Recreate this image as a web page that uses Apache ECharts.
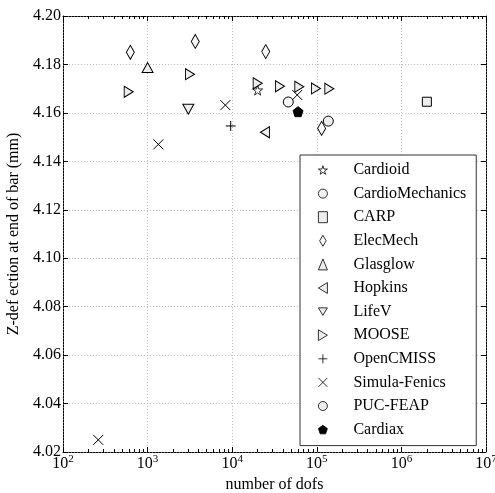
<!DOCTYPE html>
<html>
<head>
<meta charset="utf-8">
<script src="https://cdn.jsdelivr.net/npm/echarts@6/dist/echarts.min.js"></script>
<style>
  html, body { margin: 0; padding: 0; background: #fff; }
  #main { width: 495px; height: 493px; }
</style>
</head>
<body>
<div id="main"></div>
<script>
// values: [dofs, z-deflection]
var cardioid = [[20000, 4.1694]];
var cardioMechanics = [[46000, 4.1645]];
var carp = [[2000000, 4.1646]];
var elecMech = [[625, 4.1850], [3660, 4.1895], [24900, 4.1853], [114000, 4.1536]];
var glasglow = [[1000, 4.1787]];
var hopkins = [[24400, 4.1520]];
var lifeV = [[3030, 4.1615]];
var moose = [[598, 4.1687], [3170, 4.1760], [20000, 4.1722], [36700, 4.1710], [62100, 4.1708], [97700, 4.1701], [140600, 4.1700]];
var openCmiss = [[9600, 4.1546]];
var simulaFenics = [[261, 4.0250], [1340, 4.1470], [8300, 4.1632], [58700, 4.1674]];
var pucFeap = [[136800, 4.1566]];
var cardiax = [[60000, 4.1605]];

var FONT = '"Liberation Serif", "DejaVu Serif", serif';
var LIGHT = '#eeeeee';

// marker shapes
var STAR = 'path://M50,0L61,35L98,35L68,57L79,91L50,70L21,91L32,57L2,35L39,35Z';
var TRI_RIGHT = 'path://M0,0L10,6L0,12Z';
var TRI_LEFT = 'path://M10,0L0,6L10,12Z';
var TRI_DOWN = 'path://M0,0L12,0L6,10Z';
var PLUS = 'path://M5,0L5,10M0,5L10,5';
var CROSS = 'path://M0,0L10,10M10,0L0,10';
var PENTA = 'path://M50,0L98,35L79,91L21,91L2,35Z';
var DIAMOND = 'path://M6,0L12,10L6,20L0,10Z';

function mk(name, data, symbol, size, fill, bw) {
    return {
        name: name,
        type: 'scatter',
        data: data,
        symbol: symbol,
        symbolSize: size,
        symbolKeepAspect: false,
        itemStyle: {
            color: fill,
            borderColor: '#000',
            borderWidth: bw || 1,
            opacity: 1
        },
        emphasis: { disabled: true },
        z: 5
    };
}

var series = [
    mk('Cardioid', cardioid, STAR, 10, '#ffffff', 0.8),
    mk('CardioMechanics', cardioMechanics, 'circle', 10, '#f4f4f4'),
    mk('CARP', carp, 'rect', 9, LIGHT),
    mk('ElecMech', elecMech, DIAMOND, [8, 14], '#f8f8f8'),
    mk('Glasglow', glasglow, 'triangle', [11, 10], LIGHT),
    mk('Hopkins', hopkins, TRI_LEFT, [9, 11], LIGHT),
    mk('LifeV', lifeV, TRI_DOWN, [11, 10], LIGHT),
    mk('MOOSE', moose, TRI_RIGHT, [9, 11], LIGHT),
    mk('OpenCMISS', openCmiss, PLUS, 10, 'rgba(0,0,0,0)'),
    mk('Simula-Fenics', simulaFenics, CROSS, 10, 'rgba(0,0,0,0)'),
    mk('PUC-FEAP', pucFeap, 'circle', 10, LIGHT),
    mk('Cardiax', cardiax, PENTA, 10, '#000000')
];

var frameLine = { show: true, lineStyle: { color: '#000', width: 1, type: [2, 1] } };

var chart = echarts.init(document.getElementById('main'));
var option = {
    animation: false,
    backgroundColor: '#fff',
    textStyle: { fontFamily: FONT },
    grid: { left: 63, right: 9, top: 16, bottom: 41, containLabel: false, outerBoundsMode: 'none' },
    legend: {
        orient: 'vertical',
        left: 300,
        top: 155,
        padding: [7, 10, 8, 18],
        itemWidth: 9,
        itemHeight: 11,
        itemGap: 7.6,
        symbolKeepAspect: true,
        backgroundColor: '#fff',
        borderColor: '#333',
        borderWidth: 1,
        borderRadius: 0,
        selectedMode: false,
        itemStyle: { borderWidth: 0.8 },
        textStyle: { fontFamily: FONT, fontSize: 16, lineHeight: 16, color: '#000', padding: [0, 0, 0, 21] },
        data: series.map(function (s) { return s.name; })
    },
    xAxis: [
        {
            type: 'log',
            logBase: 10,
            min: 100,
            max: 10000000,
            name: 'number of dofs',
            nameLocation: 'middle',
            nameGap: 21,
            nameTextStyle: { fontFamily: FONT, fontSize: 16, color: '#000' },
            axisLine: frameLine,
            axisTick: { show: true, inside: true, length: 5, lineStyle: { color: '#000' } },
            minorTick: { show: true, splitNumber: 9, length: 3, lineStyle: { color: '#000' } },
            splitLine: { show: true, lineStyle: { color: '#bbb', type: [1, 2] } },
            axisLabel: {
                margin: 2,
                color: '#000',
                fontFamily: FONT,
                formatter: function (v) {
                    var n = Math.round(Math.log(v) / Math.LN10);
                    return '{b|10}{s|' + n + '}';
                },
                rich: {
                    b: { fontFamily: FONT, fontSize: 16, color: '#000' },
                    s: { fontFamily: FONT, fontSize: 11, color: '#000', padding: [0, 0, 8, 0] }
                }
            }
        },
        {
            type: 'log',
            logBase: 10,
            min: 100,
            max: 10000000,
            position: 'top',
            axisLine: frameLine,
            axisTick: { show: true, inside: true, length: 5, lineStyle: { color: '#000' } },
            minorTick: { show: true, splitNumber: 9, length: 3, lineStyle: { color: '#000' } },
            splitLine: { show: false },
            axisLabel: { show: false }
        }
    ],
    yAxis: [
        {
            type: 'value',
            min: 4.02,
            max: 4.20,
            interval: 0.02,
            name: 'Z-def ection at end of bar (mm)',
            nameLocation: 'middle',
            nameGap: 38,
            nameRotate: 90,
            nameTextStyle: { fontFamily: FONT, fontSize: 16, color: '#000' },
            axisLine: frameLine,
            axisTick: { show: true, inside: true, length: 5, lineStyle: { color: '#000' } },
            splitLine: { show: true, lineStyle: { color: '#bbb', type: [1, 2] } },
            axisLabel: {
                margin: 2,
                color: '#000',
                fontFamily: FONT,
                fontSize: 16,
                formatter: function (v) { return v.toFixed(2); }
            }
        },
        {
            type: 'value',
            min: 4.02,
            max: 4.20,
            interval: 0.02,
            position: 'right',
            axisLine: frameLine,
            axisTick: { show: true, inside: true, length: 5, lineStyle: { color: '#000' } },
            splitLine: { show: false },
            axisLabel: { show: false }
        }
    ],
    series: series
};
chart.setOption(option);
</script>
</body>
</html>
